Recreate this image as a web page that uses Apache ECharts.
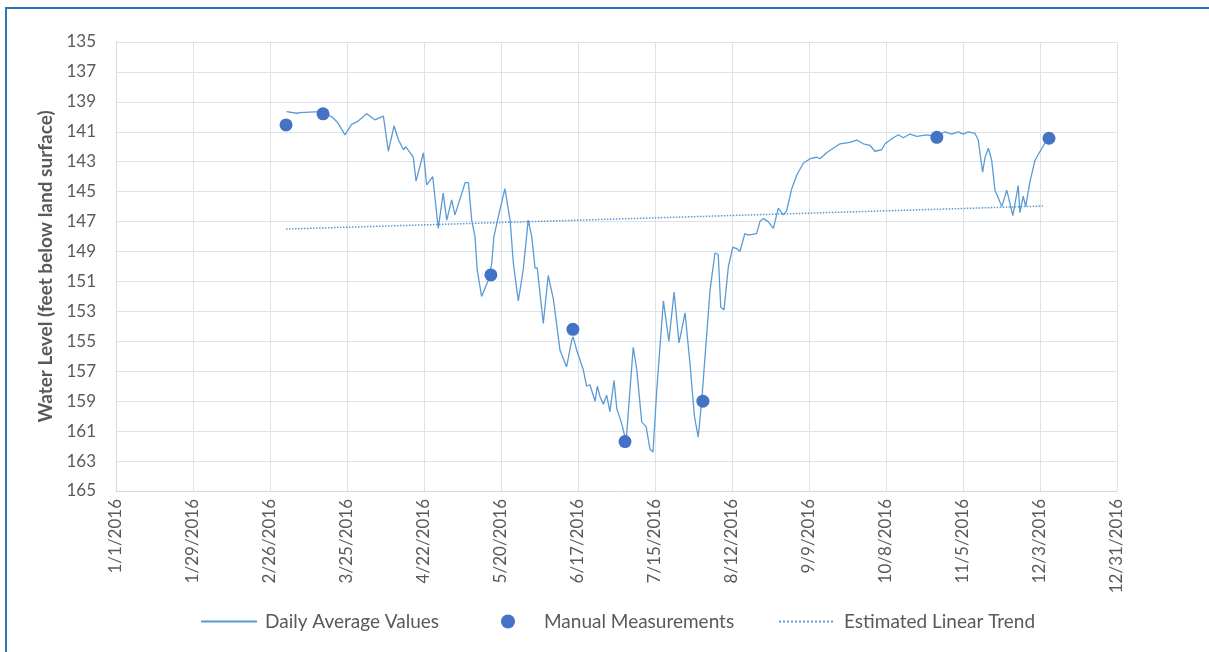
<!DOCTYPE html>
<html>
<head>
<meta charset="utf-8">
<script src="https://cdn.jsdelivr.net/npm/echarts@6/dist/echarts.min.js"></script>
<style>
html,body{margin:0;padding:0;background:#fff;}
#chart{width:1209px;height:652px;position:relative;}
#frame{position:absolute;left:5px;top:7px;right:-4px;bottom:-4px;border-top:2px solid #2E75B6;border-left:2px solid #2E75B6;pointer-events:none;}
</style>
</head>
<body>
<div style="position:relative;width:1209px;height:652px;overflow:hidden;">
<div id="chart"></div>
<div id="frame"></div>
</div>
<script>
// x values are days since 1/1/2016
var tickLabels = ['1/1/2016','1/29/2016','2/26/2016','3/25/2016','4/22/2016','5/20/2016','6/17/2016','7/15/2016','8/12/2016','9/9/2016','10/8/2016','11/5/2016','12/3/2016','12/31/2016'];

var dailyDays = [62.2,65.9,67.1,74.4,78.7,80.9,83.5,85.9,88.2,91.4,94.4,97.5,99.3,101.4,102.9,104.8,105.7,108.4,109.4,112.1,113.3,115.5,117.5,119.3,120.6,122.4,123.6,127.3,128.5,129.7,130.9,131.7,133.3,135.8,137.0,137.8,140.0,141.8,142.5,143.7,144.9,146.7,148.5,150.3,151.6,152.8,153.6,155.8,157.6,159.5,161.9,164.3,166.2,166.7,168.0,170.4,171.6,172.8,174.7,175.5,176.5,177.7,178.9,180.1,181.6,182.6,184.4,186.0,188.6,189.9,191.7,193.3,194.7,195.8,197.2,199.6,201.6,203.5,205.3,207.5,209.3,210.9,212.3,213.6,216.6,218.4,219.6,220.5,221.7,223.3,224.9,226.3,227.5,229.3,230.6,233.6,234.8,236.0,237.8,239.7,241.5,243.3,244.5,246.4,248.2,250.6,253.1,255.5,256.7,259.1,261.5,264.0,267.6,270.1,272.5,274.9,276.7,279.2,280.4,283.4,285.3,287.1,289.5,292.0,295.6,299.3,302.3,304.7,307.1,309.0,310.8,313.2,314.4,316.0,316.9,318.1,319.3,320.5,321.7,323.0,324.8,326.0,327.0,329.0,329.6,330.8,331.7,333.3,335.1,337.6,339.4];
var dailyLevels = [139.65,139.76,139.72,139.65,140.0,140.4,141.2,140.5,140.3,139.8,140.2,139.95,142.3,140.6,141.5,142.2,142.0,142.7,144.3,142.4,144.55,144.0,147.45,145.1,146.9,145.55,146.55,144.4,144.4,146.9,148.0,150.2,152.0,150.9,149.8,148.0,146.2,144.8,144.9,146.9,149.8,152.3,150.2,146.9,148.0,150.1,150.1,153.8,150.6,152.2,155.6,156.7,154.9,154.7,155.6,156.9,158.0,157.9,159.0,158.0,158.7,159.2,158.6,159.7,157.6,159.5,160.5,161.7,155.4,156.9,160.4,160.7,162.2,162.4,158.2,152.3,155.0,151.7,155.1,153.1,156.5,160.0,161.4,158.9,151.6,149.1,149.2,152.7,152.9,150.0,148.7,148.8,149.0,147.8,147.9,147.8,147.0,146.8,147.0,147.45,146.1,146.55,146.3,144.8,143.9,143.1,142.8,142.7,142.8,142.4,142.1,141.8,141.7,141.55,141.8,141.9,142.3,142.2,141.8,141.4,141.2,141.4,141.15,141.3,141.2,141.3,141.0,141.15,141.0,141.15,141.0,141.1,141.55,143.7,142.7,142.1,142.9,144.9,145.4,146.0,144.9,145.8,146.6,144.6,146.4,145.3,146.0,144.3,142.9,142.1,141.55];

var manualDays = [62.0,75.5,136.7,166.6,185.6,214.0,299.3,340.2];
var manualLevels = [140.54,139.8,150.56,154.2,161.7,159.0,141.37,141.43];

var trendDays = [62, 338];
var trendLevels = [147.5, 145.96];

function zip(a, b) { return a.map(function (v, i) { return [v, b[i]]; }); }

var TEXT = '#595959';
var FONT = 'Lato, "Open Sans", sans-serif';
var GRID = '#DCE3EA';
var xInterval = 365 / 13;

var chart = echarts.init(document.getElementById('chart'), null, {renderer: 'canvas'});
chart.setOption({
  animation: false,
  backgroundColor: '#ffffff',
  textStyle: {fontFamily: FONT, color: TEXT},
  grid: {left: 116, right: 92, top: 42, bottom: 161, containLabel: false},
  xAxis: {
    type: 'value', min: 0, max: 365, interval: xInterval,
    axisLine: {show: true, onZero: false, lineStyle: {color: '#D0D8E0', width: 1}},
    axisTick: {show: false},
    splitLine: {show: true, lineStyle: {color: GRID, width: 1}},
    axisLabel: {
      rotate: 90, margin: 8, fontSize: 17, color: TEXT, fontFamily: FONT,
      showMinLabel: true, showMaxLabel: true,
      formatter: function (v) { var i = Math.round(v / xInterval); return tickLabels[i] || ''; }
    }
  },
  yAxis: {
    type: 'value', min: 135, max: 165, interval: 2, inverse: true,
    name: 'Water Level (feet below land surface)',
    nameLocation: 'middle', nameGap: 60,
    nameTextStyle: {fontSize: 19, fontWeight: 'bold', color: TEXT, fontFamily: FONT},
    axisLine: {show: true, lineStyle: {color: '#D0D8E0', width: 1}},
    axisTick: {show: false},
    splitLine: {show: true, lineStyle: {color: GRID, width: 1}},
    axisLabel: {margin: 20, fontSize: 17, color: TEXT, fontFamily: FONT}
  },
  legend: [
    {left: 200, top: 612, padding: 0, itemWidth: 56, itemHeight: 14, data: ['Daily Average Values'],
     itemStyle: {opacity: 0},
     textStyle: {fontSize: 19, color: TEXT, fontFamily: FONT, padding: [0, 0, 0, 3]}},
    {left: 501, top: 612, padding: 0, itemWidth: 14, itemHeight: 14, data: ['Manual Measurements'],
     textStyle: {fontSize: 19, color: TEXT, fontFamily: FONT, padding: [0, 0, 0, 24]}},
    {left: 778, top: 612, padding: 0, itemWidth: 54, itemHeight: 14, data: ['Estimated Linear Trend'],
     itemStyle: {opacity: 0},
     textStyle: {fontSize: 19, color: TEXT, fontFamily: FONT, padding: [0, 0, 0, 6]}}
  ],
  series: [
    {
      name: 'Daily Average Values', type: 'line', data: zip(dailyDays, dailyLevels),
      symbol: 'none', smooth: false,
      lineStyle: {color: '#5B9BD5', width: 1.3},
      itemStyle: {color: '#5B9BD5'}, z: 2
    },
    {
      name: 'Manual Measurements', type: 'scatter', data: zip(manualDays, manualLevels),
      symbol: 'circle', symbolSize: 13,
      itemStyle: {color: '#4472C4', opacity: 1}, z: 4
    },
    {
      name: 'Estimated Linear Trend', type: 'line', data: zip(trendDays, trendLevels),
      symbol: 'none',
      lineStyle: {color: '#5B9BD5', width: 1.5, type: 'dotted'},
      itemStyle: {color: '#5B9BD5'}, z: 3
    }
  ]
});
</script>
</body>
</html>
